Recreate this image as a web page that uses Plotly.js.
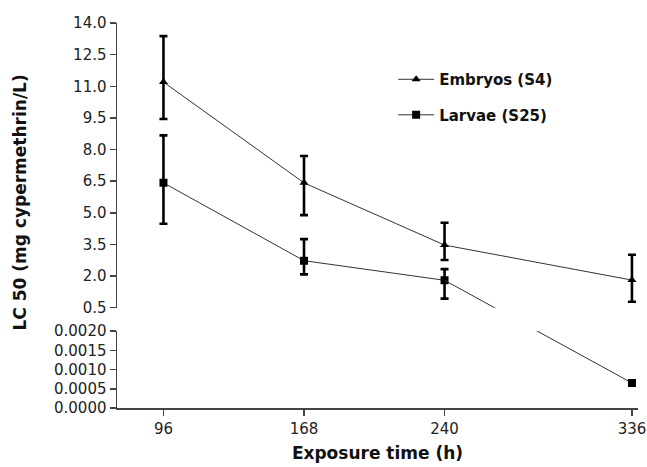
<!DOCTYPE html>
<html>
<head>
<meta charset="utf-8">
<script src="https://cdn.plot.ly/plotly-3.0.1.min.js"></script>
<style>html,body{margin:0;padding:0;background:#fff;}#chart{width:647px;height:467px;}</style>
</head>
<body>
<div id="chart"></div>
<script>
// ---- data ----
const hours = [96, 168, 240, 336];
const hourLabels = ['96', '168', '240', '336'];

const embryoLC50 = [11.2, 6.42, 3.47, 1.81];
const embryoErrPlus = [2.18, 1.27, 1.06, 1.2];
const embryoErrMinus = [1.75, 1.53, 0.71, 1.03];

const larvaeLC50 = [6.42, 2.73, 1.8, 0.00065];
const larvaeErrPlus = [2.25, 1.02, 0.53, 0];
const larvaeErrMinus = [1.94, 0.65, 0.87, 0];

const upperTicks = [0.5, 2.0, 3.5, 5.0, 6.5, 8.0, 9.5, 11.0, 12.5, 14.0];
const lowerTicks = [0, 0.0005, 0.0010, 0.0015, 0.0020];

// ---- axis geometry (broken y axis) ----
const upperRange = [0.5, 14];
const lowerRange = [0, 0.002];
const upperDomain = [0.2605, 1];
const lowerDomain = [0, 0.2];

function upperToPaper(v) { return upperDomain[0] + (v - upperRange[0]) / (upperRange[1] - upperRange[0]) * (upperDomain[1] - upperDomain[0]); }
function lowerToPaper(v) { return lowerDomain[0] + (v - lowerRange[0]) / (lowerRange[1] - lowerRange[0]) * (lowerDomain[1] - lowerDomain[0]); }
function paperToUpper(p) { return upperRange[0] + (p - upperDomain[0]) / (upperDomain[1] - upperDomain[0]) * (upperRange[1] - upperRange[0]); }
function paperToLower(p) { return lowerRange[0] + (p - lowerDomain[0]) / (lowerDomain[1] - lowerDomain[0]) * (lowerRange[1] - lowerRange[0]); }

// split larvae series: points in upper panel vs lower panel
const isUpper = larvaeLC50.map(v => v >= upperRange[0]);
const lu = {x: [], y: [], p: [], m: []};
const ll = {x: [], y: []};
larvaeLC50.forEach((v, i) => {
  if (isUpper[i]) { lu.x.push(hours[i]); lu.y.push(v); lu.p.push(larvaeErrPlus[i]); lu.m.push(larvaeErrMinus[i]); }
  else { ll.x.push(hours[i]); ll.y.push(v); }
});
// crossing segment (last upper point -> first lower point), straight in screen space, clipped by each panel
const iU = isUpper.lastIndexOf(true), iL = iU + 1;
const crossUpperY = [larvaeLC50[iU], paperToUpper(lowerToPaper(larvaeLC50[iL]))];
const crossLowerY = [paperToLower(upperToPaper(larvaeLC50[iU])), larvaeLC50[iL]];

const lineCol = '#333';
const mk = '#000';
const errStyle = (p, m) => ({type: 'data', symmetric: false, array: p, arrayminus: m, color: '#000', thickness: 2.6, width: 4});

const traces = [
  {
    name: 'Embryos (S4)', legendgroup: 'e', x: hours, y: embryoLC50, xaxis: 'x', yaxis: 'y',
    mode: 'lines+markers', line: {color: lineCol, width: 1},
    marker: {symbol: 'triangle-up', size: 8, color: mk},
    error_y: errStyle(embryoErrPlus, embryoErrMinus)
  },
  {
    name: 'Larvae (S25)', legendgroup: 'l', x: lu.x, y: lu.y, xaxis: 'x', yaxis: 'y',
    mode: 'lines+markers', line: {color: lineCol, width: 1},
    marker: {symbol: 'square', size: 8, color: mk},
    error_y: errStyle(lu.p, lu.m)
  },
  {
    name: 'Larvae (S25)', legendgroup: 'l', showlegend: false, x: [hours[iU], hours[iL]], y: crossUpperY,
    xaxis: 'x', yaxis: 'y', mode: 'lines', line: {color: lineCol, width: 1}, hoverinfo: 'skip'
  },
  {
    name: 'Larvae (S25)', legendgroup: 'l', showlegend: false, x: [hours[iU], hours[iL]], y: crossLowerY,
    xaxis: 'x', yaxis: 'y2', mode: 'lines', line: {color: lineCol, width: 1}, hoverinfo: 'skip'
  },
  {
    name: 'Larvae (S25)', legendgroup: 'l', showlegend: false, x: ll.x, y: ll.y, xaxis: 'x', yaxis: 'y2',
    mode: 'markers', marker: {symbol: 'square', size: 8, color: mk}
  }
];

const tickFont = {family: 'DejaVu Sans', size: 15, color: '#222'};
const axLine = '#444';

const layout = {
  width: 647, height: 467,
  margin: {l: 117, r: 9, t: 23, b: 59, pad: 0},
  paper_bgcolor: '#fff', plot_bgcolor: '#fff',
  font: {family: 'DejaVu Sans', color: '#222'},
  showlegend: true,
  legend: {
    x: 0.53, y: 0.896, xanchor: 'left', yanchor: 'top',
    font: {family: 'DejaVu Sans', size: 15, color: '#111', weight: 'bold'},
    bgcolor: 'rgba(0,0,0,0)', tracegroupgap: 13, traceorder: 'grouped', itemwidth: 36
  },
  xaxis: {
    anchor: 'y2', range: [72.2, 339.1], tickvals: hours, ticktext: hourLabels,
    showline: true, linecolor: axLine, linewidth: 1.5, ticks: 'outside', ticklen: 6, tickwidth: 1.5, tickcolor: axLine,
    showgrid: false, zeroline: false, tickfont: tickFont,
    title: {text: 'Exposure time (h)', font: {family: 'DejaVu Sans', size: 17, color: '#111', weight: 'bold'}, standoff: 10}
  },
  yaxis: {
    anchor: 'x', domain: upperDomain, range: upperRange, tickvals: upperTicks, tickformat: '.1f',
    showline: true, linecolor: axLine, linewidth: 1.5, ticks: 'outside', ticklen: 6, tickwidth: 1.5, tickcolor: axLine,
    showgrid: false, zeroline: false, tickfont: tickFont
  },
  yaxis2: {
    anchor: 'x', domain: lowerDomain, range: lowerRange, tickvals: lowerTicks, tickformat: '.4f',
    showline: true, linecolor: axLine, linewidth: 1.5, ticks: 'outside', ticklen: 6, tickwidth: 1.5, tickcolor: axLine,
    showgrid: false, zeroline: false, tickfont: tickFont
  },
  annotations: [{
    text: 'LC 50 (mg cypermethrin/L)', xref: 'paper', yref: 'paper', x: -0.186, y: 0.534,
    xanchor: 'center', yanchor: 'middle', textangle: -90, showarrow: false,
    font: {family: 'DejaVu Sans', size: 17, color: '#111', weight: 'bold'}
  }]
};

Plotly.newPlot('chart', traces, layout, {displayModeBar: false, staticPlot: true});
</script>
</body>
</html>
